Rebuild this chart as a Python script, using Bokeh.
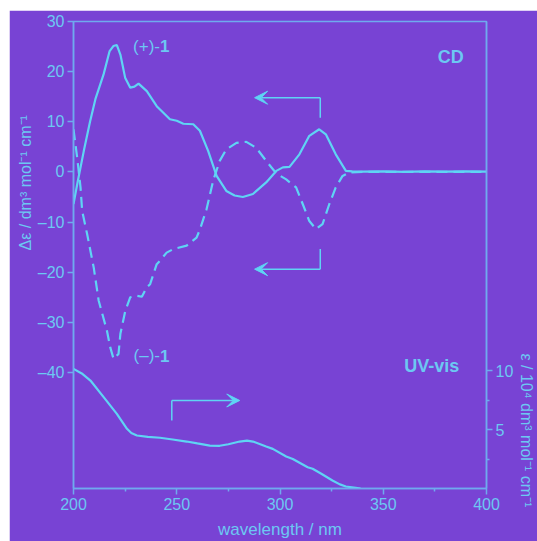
from bokeh.plotting import figure
from bokeh.models import (Range1d, LinearAxis, FixedTicker, Label, Arrow, VeeHead, Title, Spacer)
from bokeh.layouts import column, row
from bokeh.embed import file_html
from bokeh.resources import INLINE

# ---------------- data ----------------
cd_plus_wl = [200, 202, 205, 208, 210.6, 214.6, 217.5, 219.3, 221, 222.7, 225, 227.5, 229.5,
              231.5, 235.5, 240.3, 246.7, 250, 253.2, 258, 261.2, 265.2, 269.3, 274, 278,
              282, 286.9, 293.3, 298.2, 301.4, 304.6, 309.4, 314.2, 319, 322.2, 327, 331.9,
              335, 340, 350, 360, 370, 380, 390, 400]
cd_plus = [-6.4, -2.0, 4.2, 10.0, 14.5, 19.5, 24.1, 25.1, 25.3, 23.4, 18.8, 16.8, 17.0,
           17.6, 16.1, 13.1, 10.5, 10.2, 9.6, 9.5, 8.2, 4.2, -0.8, -3.8, -4.7,
           -5.0, -4.4, -2.1, 0.2, 0.9, 1.0, 3.5, 7.2, 8.5, 7.5, 3.5, 0.2,
           0.1, 0.05, 0.1, 0.0, 0.1, 0.05, 0.1, 0.05]

cd_minus_wl = [200, 201.8, 203.4, 204.2, 206.6, 209.8, 212.2, 216.2, 217.8, 219.4, 221.8,
               222.7, 225.1, 227.5, 230.7, 233.1, 235.5, 237.1, 240.3, 241.9, 245.1, 248.3,
               254.8, 259.6, 261.2, 264.4, 267.6, 270.8, 274, 278.9, 283.7, 288.5, 293.3,
               298.2, 303, 307.8, 311, 314.2, 317.4, 320.6, 323.9, 327, 330.3, 333.5, 340,
               350, 360, 370, 380, 390, 400]
cd_minus = [8.5, 2.8, -3.1, -7.8, -12.4, -19.1, -25.7, -31.7, -35.0, -37.3, -36.3,
            -32.3, -27.7, -25.0, -24.7, -24.9, -23.0, -22.4, -18.4, -17.7, -16.1, -15.4,
            -14.7, -13.1, -11.5, -7.5, -1.8, 2.2, 4.5, 5.8, 6.0, 4.8, 2.2,
            -0.3, -1.5, -3.1, -6.4, -9.8, -11.4, -10.4, -6.4, -3.1, -0.8, -0.1, 0.0,
            0.0, 0.0, 0.0, 0.0, 0.0, 0.0]

uv_wl = [200, 204, 208.2, 214.6, 221, 225.9, 228, 230.7, 236, 241.9, 248, 254.8, 260, 266,
         270.8, 275, 280.5, 284, 286.9, 293.3, 296.5, 303, 306.2, 313.4, 315.8, 320, 325.4,
         329, 331.9, 336.7, 339]
uv = [10.14, 9.75, 9.15, 7.74, 6.33, 5.06, 4.7, 4.49, 4.38, 4.3, 4.15, 3.98, 3.82, 3.64,
      3.62, 3.75, 3.98, 4.05, 3.98, 3.56, 3.36, 2.71, 2.5, 1.8, 1.67, 1.25, 0.68,
      0.35, 0.17, 0.06, 0.0]

x_ticks = [200, 250, 300, 350, 400]
x_minor = [225, 275, 325, 375]
cd_ticks = [-40, -30, -20, -10, 0, 10, 20, 30]
uv_ticks = [5, 10]
uv_minor = [2.5, 7.5]

# annotation anchors (data units)
arrow_cd_x = [319.5, 287.7]
arrow_plus_y = [10.8, 14.8]
arrow_minus_y = [-15.4, -19.4]
arrow_uv_x = [247.6, 280.5]
arrow_uv_y = [5.76, 7.46]

# ---------------- style ----------------
BG = "#7843D4"
LINE = "#5FD4F4"
AXIS = "#6FAAEE"
TXT = "#6CC8F2"
FONT = "Liberation Sans"

p = figure(width=528, height=531, x_range=Range1d(200, 400), y_range=Range1d(-63.15, 30),
           output_backend="svg", toolbar_location=None,
           min_border_left=64, min_border_top=11, min_border_right=49, min_border_bottom=53,
           background_fill_color=BG, border_fill_color=BG,
           outline_line_color=AXIS, outline_line_width=1.5,
           x_axis_label="wavelength / nm")
p.extra_y_ranges = {"uv": Range1d(0, 39.58)}
p.xgrid.visible = False
p.ygrid.visible = False

def style_axis(ax):
    ax.axis_line_color = AXIS
    ax.axis_line_width = 1.5
    ax.major_tick_line_color = AXIS
    ax.minor_tick_line_color = AXIS
    ax.major_tick_line_width = 1.5
    ax.minor_tick_line_width = 1.5
    ax.major_tick_in = 0
    ax.major_tick_out = 6
    ax.minor_tick_in = 0
    ax.minor_tick_out = 3
    ax.major_label_text_color = TXT
    ax.major_label_text_font = FONT
    ax.major_label_text_font_size = "16px"
    ax.major_label_standoff = 3
    ax.axis_label_text_color = TXT
    ax.axis_label_text_font = FONT
    ax.axis_label_text_font_size = "17px"
    ax.axis_label_text_font_style = "normal"
    ax.axis_label_standoff = 7

xa = p.xaxis[0]
style_axis(xa)
xa.ticker = FixedTicker(ticks=x_ticks, minor_ticks=x_minor)

ya = p.yaxis[0]
style_axis(ya)
ya.ticker = FixedTicker(ticks=cd_ticks, minor_ticks=[])
ya.major_label_overrides = {t: (("\u2013" + str(-t)) if t < 0 else str(t)) for t in cd_ticks}

ra = LinearAxis(y_range_name="uv", ticker=FixedTicker(ticks=uv_ticks, minor_ticks=uv_minor))
style_axis(ra)
p.add_layout(ra, "right")

# rotated axis titles, placed as side-panel titles so they can sit off-centre
left_title = Title(text="\u0394\u03b5 / dm\u00b3 mol\u207b\u00b9 cm\u207b\u00b9", align="left",
                   offset=238, text_font=FONT, text_font_size="16px",
                   text_font_style="normal", text_color=TXT, standoff=2)
p.add_layout(left_title, "left")
right_title = Title(text="\u03b5 / 10\u2074 dm\u00b3 mol\u207b\u00b9 cm\u207b\u00b9", align="left",
                    offset=332, text_font=FONT, text_font_size="16px",
                    text_font_style="normal", text_color=TXT, standoff=2)
p.add_layout(right_title, "right")

# ---------------- curves ----------------
p.line(cd_plus_wl, cd_plus, line_color=LINE, line_width=2.2)
p.line(cd_minus_wl, cd_minus, line_color=LINE, line_width=2.2, line_dash="11 6")
p.line(uv_wl, uv, line_color=LINE, line_width=2.2, y_range_name="uv")

# ---------------- arrows ----------------
def l_arrow(xv, yv_from, yv_to, x_to, rng="default"):
    p.line([xv, xv], [yv_from, yv_to], line_color=LINE, line_width=1.5, y_range_name=rng)
    p.add_layout(Arrow(end=VeeHead(size=13, fill_color=LINE, line_color=LINE, line_width=1),
                       x_start=xv, y_start=yv_to, x_end=x_to, y_end=yv_to,
                       line_color=LINE, line_width=1.5, y_range_name=rng))

l_arrow(arrow_cd_x[0], arrow_plus_y[0], arrow_plus_y[1], arrow_cd_x[1])
l_arrow(arrow_cd_x[0], arrow_minus_y[0], arrow_minus_y[1], arrow_cd_x[1])
l_arrow(arrow_uv_x[0], arrow_uv_y[0], arrow_uv_y[1], arrow_uv_x[1], rng="uv")

# ---------------- texts ----------------
def lab(x, y, text, size="17px", style="normal", align="left", rng="default"):
    p.add_layout(Label(x=x, y=y, text=text, text_font=FONT, text_font_size=size,
                       text_font_style=style, text_color=TXT, text_align=align,
                       text_baseline="middle", y_range_name=rng))

lab(241.9, 25.1, "(+)-", align="right")
lab(241.9, 25.1, "1", style="bold")
lab(241.9, -36.7, "(\u2013)-", align="right")
lab(241.9, -36.7, "1", style="bold")
lab(382.7, 22.9, "CD", size="18px", style="bold", align="center")
lab(373.5, 10.4, "UV-vis", size="18px", style="bold", align="center", rng="uv")

page = column(Spacer(width=537, height=10), row(Spacer(width=9, height=531), p))
open("out.html", "w").write(file_html(page, INLINE))
